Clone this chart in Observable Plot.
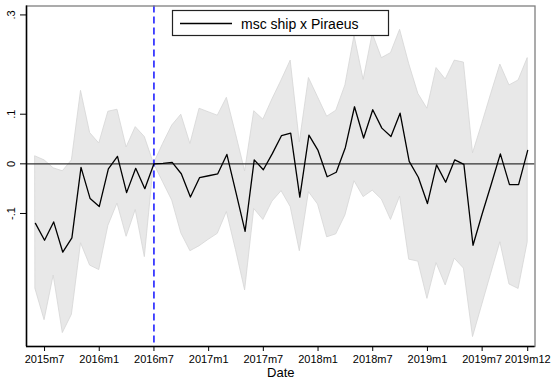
<!DOCTYPE html>
<html>
<head>
<meta charset="utf-8">
<script src="https://cdn.jsdelivr.net/npm/d3@7"></script>
<script src="https://cdn.jsdelivr.net/npm/@observablehq/plot@0.6"></script>
<style>
  html, body { margin: 0; padding: 0; background: #fff; }
  #chart { width: 551px; height: 384px; }
  svg { font-family: "Liberation Sans", Arial, sans-serif; }
</style>
</head>
<body>
<div id="chart"></div>
<script>
// ---- data ----
const months = [
  "2015m6","2015m7","2015m8","2015m9","2015m10","2015m11","2015m12",
  "2016m1","2016m2","2016m3","2016m4","2016m5","2016m6","2016m7","2016m8","2016m9","2016m10","2016m11","2016m12",
  "2017m1","2017m2","2017m3","2017m4","2017m5","2017m6","2017m7","2017m8","2017m9","2017m10","2017m11","2017m12",
  "2018m1","2018m2","2018m3","2018m4","2018m5","2018m6","2018m7","2018m8","2018m9","2018m10","2018m11","2018m12",
  "2019m1","2019m2","2019m3","2019m4","2019m5","2019m6","2019m7","2019m8","2019m9","2019m10","2019m11","2019m12"
];
const estimate = [
  -0.120, -0.154, -0.117, -0.178, -0.149, -0.007, -0.070,
  -0.086, -0.010, 0.015, -0.058, -0.009, -0.050, 0.000, 0.001, 0.003, -0.020, -0.067, -0.028,
  -0.024, -0.020, 0.019, -0.058, -0.136, 0.008, -0.012, 0.021, 0.057, 0.062, -0.067, 0.058,
  0.027, -0.026, -0.017, 0.033, 0.115, 0.052, 0.109, 0.072, 0.055, 0.102, 0.005, -0.027,
  -0.080, -0.002, -0.037, 0.008, -0.001, -0.164, -0.101, -0.041, 0.020, -0.042, -0.042, 0.027
];
const upper = [
  0.015, 0.007, -0.009, -0.015, 0.007, 0.147, 0.062,
  0.041, 0.105, 0.109, 0.033, 0.074, 0.054, 0.000, 0.040, 0.077, 0.099, 0.040, 0.111,
  0.104, 0.097, 0.133, 0.060, -0.015, 0.106, 0.089, 0.130, 0.168, 0.208, 0.043, 0.173,
  0.134, 0.095, 0.107, 0.158, 0.258, 0.169, 0.262, 0.213, 0.223, 0.270, 0.201, 0.141,
  0.111, 0.193, 0.170, 0.208, 0.204, 0.021, 0.080, 0.141, 0.200, 0.158, 0.168, 0.213
];
const lower = [
  -0.252, -0.315, -0.225, -0.341, -0.304, -0.160, -0.205,
  -0.214, -0.125, -0.080, -0.147, -0.093, -0.188, 0.000, -0.037, -0.074, -0.140, -0.176, -0.166,
  -0.153, -0.141, -0.097, -0.174, -0.255, -0.091, -0.113, -0.076, -0.055, -0.087, -0.176, -0.057,
  -0.082, -0.148, -0.142, -0.104, -0.035, -0.067, -0.054, -0.072, -0.113, -0.066, -0.193, -0.197,
  -0.272, -0.200, -0.245, -0.191, -0.211, -0.349, -0.285, -0.221, -0.158, -0.243, -0.252, -0.158
];
const xTickLabels = ["2015m7","2016m1","2016m7","2017m1","2017m7","2018m1","2018m7","2019m1","2019m7","2019m12"];
const yTickValues = [-0.1, 0, 0.1, 0.3];
const yTickLabels = ["-.1", "0", ".1", ".3"];
const refMonth = "2016m7";
const legendLabel = "msc ship x Piraeus";
const xTitle = "Date";

// ---- build ----
const rows = months.map((m, i) => ({ i, m, est: estimate[i], lo: lower[i], hi: upper[i] }));
const xDomain = [-0.98, 54.8];
const yDomain = [-0.368, 0.318];
const xTicks = xTickLabels.map(l => months.indexOf(l));

const chart = Plot.plot({
  width: 551,
  height: 384,
  marginLeft: 26,
  marginRight: 16.5,
  marginTop: 5.5,
  marginBottom: 38,
  style: { fontFamily: '"Liberation Sans", Arial, sans-serif', fontSize: "11px", background: "#fff", color: "#000" },
  x: { domain: xDomain },
  y: { domain: yDomain },
  marks: [
    Plot.areaY(rows, { x: "i", y1: "lo", y2: "hi", fill: "#e8e8e8", stroke: "#d6d6d6", strokeWidth: 0.8 }),
    Plot.ruleY([0], { stroke: "#333", strokeWidth: 1.4 }),
    Plot.ruleX([months.indexOf(refMonth)], { stroke: "#0000ff", strokeWidth: 1.4, strokeDasharray: "7,4" }),
    Plot.lineY(rows, { x: "i", y: "est", stroke: "#000", strokeWidth: 1.3 }),
    Plot.frame({ stroke: "#7f7f7f", strokeWidth: 1.3 }),
    Plot.ruleX([xDomain[0]], { stroke: "#000", strokeWidth: 1.5 }),
    Plot.ruleY([yDomain[0]], { stroke: "#000", strokeWidth: 1.5 }),
    Plot.axisX(xTicks, { tickSize: 5, tickPadding: 4, tickFormat: i => months[i], label: null, fontSize: 11 }),
    Plot.axisY(yTickValues, { tickSize: 6, tickPadding: 6, tickRotate: -90, tickFormat: v => yTickLabels[yTickValues.indexOf(v)], label: null, fontSize: 11 }),
    Plot.text([xTitle], { frameAnchor: "bottom", dy: 30, fontSize: 13 })
  ]
});
document.getElementById("chart").appendChild(chart);

// legend (drawn inside the same svg)
const svg = d3.select(chart);
const lg = svg.append("g").attr("text-anchor", "start");
lg.append("rect").attr("x", 172.5).attr("y", 10.5).attr("width", 216).attr("height", 25)
  .attr("fill", "#fff").attr("stroke", "#222").attr("stroke-width", 1.2);
lg.append("line").attr("x1", 180).attr("x2", 232).attr("y1", 23.5).attr("y2", 23.5)
  .attr("stroke", "#000").attr("stroke-width", 1.3);
lg.append("text").attr("x", 241).attr("y", 28.8).attr("font-size", 14).attr("text-anchor", "start")
  .attr("font-family", '"Liberation Sans", Arial, sans-serif').attr("fill", "#000").text(legendLabel);
</script>
</body>
</html>
